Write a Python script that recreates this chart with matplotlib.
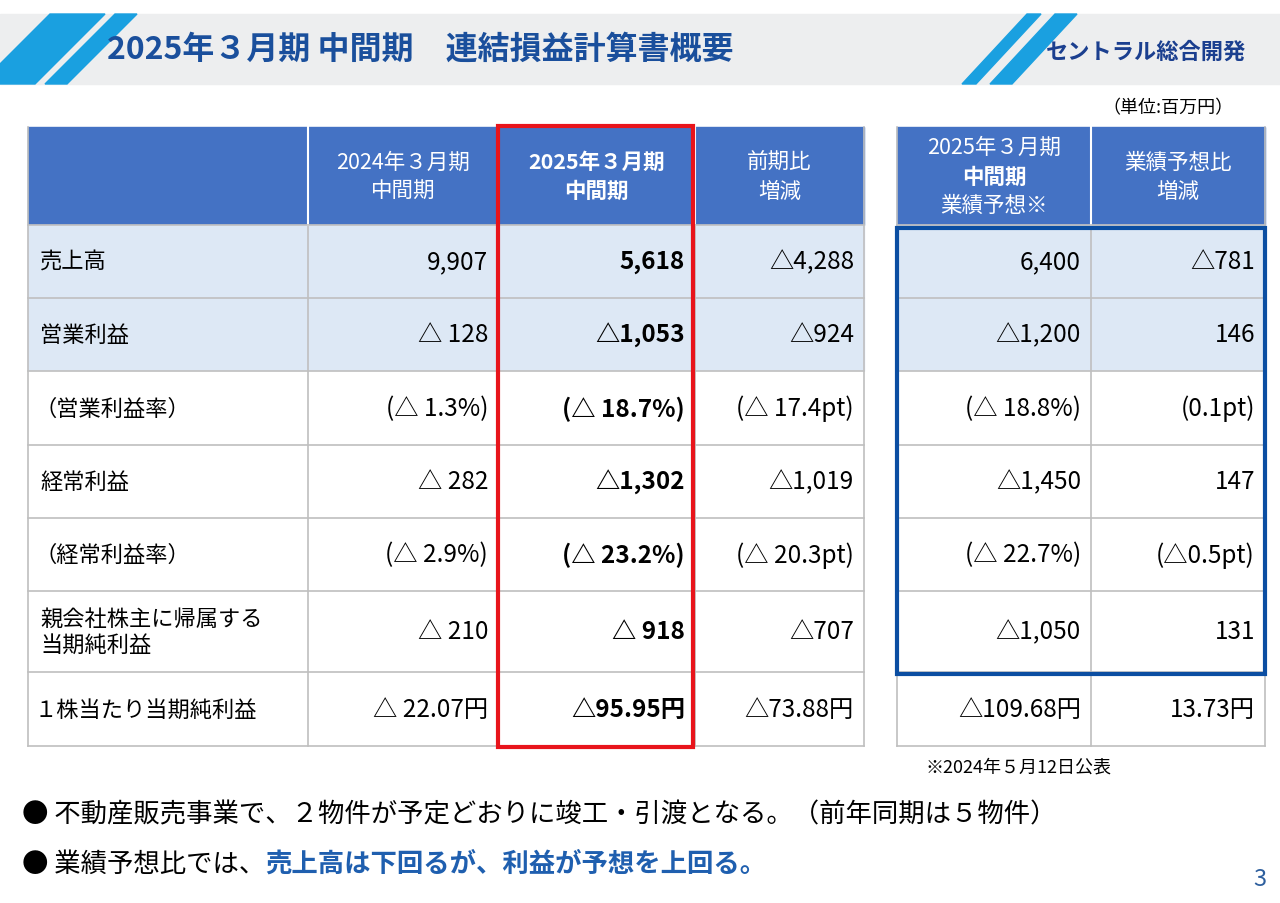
import matplotlib
matplotlib.use("Agg")
import matplotlib.pyplot as plt
from matplotlib.patches import Rectangle, Polygon

plt.rcParams["font.family"] = "Noto Sans CJK JP"

title = "2025年３月期 中間期　連結損益計算書概要"
row_labels = ["売上高", "営業利益", "（営業利益率）", "経常利益", "（経常利益率）",
              "親会社株主に帰属する\n当期純利益", "１株当たり当期純利益"]
prev = ["9,907", "△ 128", "(△ 1.3%)", "△ 282", "(△ 2.9%)", "△ 210", "△ 22.07円"]
curr = ["5,618", "△1,053", "(△ 18.7%)", "△1,302", "(△ 23.2%)", "△ 918", "△95.95円"]
diff = ["△4,288", "△924", "(△ 17.4pt)", "△1,019", "(△ 20.3pt)", "△707", "△73.88円"]
fcst = ["6,400", "△1,200", "(△ 18.8%)", "△1,450", "(△ 22.7%)", "△1,050", "△109.68円"]
vs_fcst = ["△781", "146", "(0.1pt)", "147", "(△0.5pt)", "131", "13.73円"]
headers_left = ["", "2024年３月期\n中間期", "2025年３月期\n中間期", "前期比\n増減"]
headers_right = ["2025年３月期\n中間期\n業績予想※", "業績予想比\n増減"]

fig = plt.figure(figsize=(12.8, 9.04), dpi=100)
ax = fig.add_axes([0, 0, 1, 1])
ax.set_xlim(0, 1280); ax.set_ylim(904, 0); ax.axis("off")

BLUE = "#4472C4"; LIGHT = "#DDE8F5"; GRID = "#BFBFBF"; DARK = "#1A4F9C"

ax.add_patch(Rectangle((0, 15), 1280, 70, color="#EDEEEF", zorder=0))
for x0, w in [(-20, 55), (45, 22)]:
    ax.add_patch(Polygon([(x0, 85), (x0 + w, 85), (x0 + w + 70, 15), (x0 + 70, 15)], color="#1AA0E0"))
for x0, w in [(962, 14), (990, 22)]:
    ax.add_patch(Polygon([(x0, 85), (x0 + w, 85), (x0 + w + 65, 15), (x0 + 65, 15)], color="#1AA0E0"))
ax.text(107, 50, title, color=DARK, fontsize=23, fontweight="bold", va="center")
ax.text(1246, 52, "セントラル総合開発", color="#1B3F8F", fontsize=16, fontweight="bold", va="center", ha="right")
ax.text(1234, 108, "（単位:百万円）", fontsize=13, ha="right", va="center")

xl = [28, 308, 498, 695, 864]
xr = [897, 1091, 1265]
ys = [128, 226, 299, 372, 446, 519, 592, 673, 747]

def table(xs, headers, cols, bold_col=None):
    ax.add_patch(Rectangle((xs[0], ys[0]), xs[-1] - xs[0], ys[1] - ys[0], color=BLUE, zorder=1))
    for r in range(7):
        c = LIGHT if r < 2 else "white"
        ax.add_patch(Rectangle((xs[0], ys[r + 1]), xs[-1] - xs[0], ys[r + 2] - ys[r + 1], color=c, zorder=1))
    for x in xs:
        ax.plot([x, x], [ys[0], ys[-1]], color=GRID, lw=1.2, zorder=2)
    for x in xs[1:-1]:
        ax.plot([x, x], [ys[0], ys[1]], color="white", lw=1.5, zorder=2)
    for y in ys[1:]:
        ax.plot([xs[0], xs[-1]], [y, y], color=GRID, lw=1.2, zorder=2)
    for i, h in enumerate(headers):
        cx = (xs[i] + xs[i + 1]) / 2
        lines = h.split("\n")
        n = len(lines)
        for k, ln in enumerate(lines):
            y = (ys[0] + ys[1]) / 2 + (k - (n - 1) / 2) * 29
            bold = (i == bold_col) or (n == 3 and k == 1)
            ax.text(cx, y, ln, color="white", fontsize=15.5, ha="center", va="center",
                    fontweight="bold" if bold else "normal", zorder=3)
    for j, col in enumerate(cols):
        ci = j + (len(xs) - 1 - len(cols))
        for r, v in enumerate(col):
            y = (ys[r + 1] + ys[r + 2]) / 2
            ax.text(xs[ci + 1] - 10, y, v, fontsize=17.5, ha="right", va="center", zorder=3,
                    fontweight="bold" if ci == bold_col else "normal")

table(xl, headers_left, [prev, curr, diff], bold_col=2)
table(xr, headers_right, [fcst, vs_fcst])
for r, lab in enumerate(row_labels):
    y = (ys[r + 1] + ys[r + 2]) / 2
    ax.text(40 if not lab.startswith("（") and not lab.startswith("１") else 35, y, lab,
            fontsize=16, ha="left", va="center", zorder=3, linespacing=1.15)

ax.add_patch(Rectangle((498, 127), 195, 621, fill=False, ec="#E8141B", lw=3, zorder=4))
ax.add_patch(Rectangle((897, 229), 368, 446, fill=False, ec="#0B4EA2", lw=3, zorder=4))
ax.text(1018, 768, "※2024年５月12日公表", fontsize=13, ha="center", va="center")

ax.text(22, 815, "● 不動産販売事業で、２物件が予定どおりに竣工・引渡となる。（前年同期は５物件）",
        fontsize=19, va="center")
t1 = ax.text(22, 864, "● 業績予想比では、", fontsize=19, va="center")
fig.canvas.draw()
bb = t1.get_window_extent()
ax.text(22 + bb.width, 864, "売上高は下回るが、利益が予想を上回る。", fontsize=19, va="center",
        color="#1F5FAF", fontweight="bold")
ax.text(1260, 880, "3", fontsize=17, color="#2E5F9E", ha="center", va="center")

fig.savefig("out.png", dpi=100)
